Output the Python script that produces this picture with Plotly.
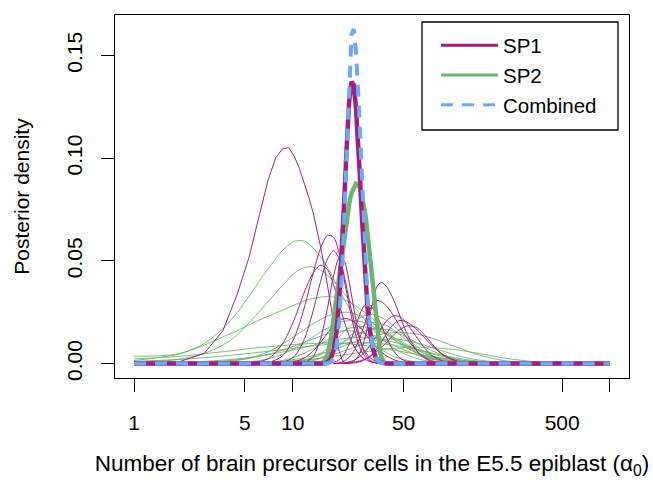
import plotly.graph_objects as go

# ---------------- data ----------------
X_TICKS = [1, 5, 10, 50, 500]
X_TICK_LABELS = ["1", "5", "10", "50", "500"]
X_UNLABELLED_TICKS = [100, 1000]
Y_TICKS = [0.00, 0.05, 0.10, 0.15]
Y_TICK_LABELS = ["0.00", "0.05", "0.10", "0.15"]
SERIES_NAMES = ["SP1", "SP2", "Combined"]
X_TITLE = "Number of brain precursor cells in the E5.5 epiblast (α<sub>0</sub>)"
Y_TITLE = "Posterior density"

# pooled posteriors (thick lines)
SP1_X = [1, 15.77, 16.55, 17.32, 18.10, 18.88, 19.65, 20.42, 21.19, 21.96, 22.72, 23.49,
         24.25, 25.01, 25.77, 26.53, 27.29, 28.04, 28.80, 29.55, 30.30, 31.05, 31.80,
         33.30, 34.79, 36.28, 39.25, 1000]
SP1_Y = [0, 0, 0.0006, 0.0022, 0.0064, 0.0154, 0.0314, 0.0537, 0.0814, 0.1073,
         0.1279, 0.1372, 0.1357, 0.1254, 0.1101, 0.0914, 0.0718, 0.0552, 0.0398,
         0.0284, 0.0191, 0.0126, 0.0082, 0.0031, 0.0011, 0.0004, 0, 0]

SP2_X = [1, 14.98, 15.77, 16.55, 17.32, 18.10, 18.88, 19.65, 20.42, 21.19, 21.96, 22.72,
         23.49, 24.25, 25.01, 25.77, 26.53, 27.29, 28.04, 28.80, 29.55, 30.30, 31.05,
         31.80, 32.55, 33.30, 34.05, 34.79, 35.53, 36.28, 37.76, 39.25, 1000]
SP2_Y = [0, 0, 0.001, 0.004, 0.011, 0.022, 0.034, 0.045, 0.055, 0.064, 0.072,
         0.078, 0.083, 0.086, 0.0875, 0.0870, 0.0855, 0.082, 0.078, 0.072, 0.064,
         0.056, 0.047, 0.037, 0.030, 0.022, 0.015, 0.010, 0.006, 0.003, 0.0005, 0, 0]

COMB_X = [1, 16.55, 17.32, 18.10, 18.88, 19.65, 20.42, 21.19, 21.96, 22.72, 23.49, 24.25,
          25.01, 25.77, 26.53, 27.29, 28.04, 28.80, 29.55, 30.30, 31.05, 31.80, 33.30,
          34.79, 36.28, 39.25, 1000]
COMB_Y = [0, 0.0001, 0.0007, 0.0026, 0.0081, 0.0209, 0.0426, 0.0746, 0.1097,
          0.1417, 0.1601, 0.1629, 0.1528, 0.1353, 0.1126, 0.0882, 0.0672, 0.0478,
          0.0337, 0.0221, 0.0142, 0.0090, 0.0032, 0.0011, 0.0003, 0, 0]

# individual SP1 posteriors (thin magenta)
SP1_THIN_X = [
    [1, 1.89, 2.77, 3.63, 4.48, 5.32, 6.15, 6.98, 7.80, 8.61, 9.42, 10.22, 11.03, 11.82,
     12.62, 13.41, 14.20, 14.98, 15.77, 16.55, 17.32, 18.10, 18.88, 19.65, 20.42, 21.19, 22.72],
    [5.32, 6.98, 8.61, 10.22, 11.82, 13.41, 14.98, 16.55, 18.10, 19.65, 21.19, 22.72, 24.25,
     27.29, 30.30, 34.05, 39.25],
    [6.98, 8.61, 10.22, 11.82, 13.41, 14.98, 16.55, 18.10, 19.65, 21.19, 22.72, 24.25, 25.77,
     27.29, 30.30, 34.05],
    [3.63, 5.32, 6.98, 8.61, 10.22, 11.82, 13.41, 14.98, 16.55, 18.10, 19.65, 21.19, 22.72,
     24.25, 27.29, 30.30, 34.05, 39.25],
    [21.19, 22.72, 24.25, 25.77, 27.29, 28.80, 30.30, 31.80, 34.05, 36.28, 39.25, 42.95,
     46.62, 50.25, 53.88, 61.12, 68.31, 75.44, 89.56],
    [18.10, 19.65, 21.19, 22.72, 24.25, 25.77, 27.29, 28.80, 30.30, 31.80, 34.05, 36.28,
     39.25, 42.95, 46.62, 50.25, 53.88, 61.12, 68.31, 75.44, 89.56, 110.5],
    [18.10, 21.19, 24.25, 27.29, 30.30, 34.05, 36.28, 39.25, 42.95, 46.62, 50.25, 53.88,
     61.12, 68.31, 75.44, 89.56, 110.5, 145.0],
    [18.10, 21.19, 24.25, 27.29, 30.30, 34.05, 39.25, 42.95, 46.62, 50.25, 53.88, 61.12,
     68.31, 75.44, 89.56, 110.5, 145.0],
    [21.19, 24.25, 27.29, 30.30, 34.05, 36.28, 39.25, 42.95, 46.62, 50.25, 53.88, 61.12,
     68.31, 75.44, 89.56, 110.5, 145.0, 212.4],
    [14.98, 16.55, 18.10, 19.65, 21.19, 22.72, 24.25, 25.77, 27.29, 28.80, 30.30, 31.80,
     34.05, 36.28, 39.25, 42.95, 46.62, 53.88, 61.12],
    [10.22, 11.82, 13.41, 14.98, 16.55, 18.10, 19.65, 21.19, 22.72, 24.25, 25.77, 27.29,
     28.80, 31.80, 36.28],
    [6.98, 8.61, 10.22, 11.82, 13.41, 14.98, 16.55, 18.10, 19.65, 21.19, 22.72, 24.25,
     27.29, 30.30, 34.05, 39.25, 46.62, 53.88, 61.12],
]
SP1_THIN_Y = [
    [0, 0.0007, 0.005, 0.016, 0.034, 0.052, 0.072, 0.089, 0.100, 0.1045, 0.1052, 0.101, 0.095,
     0.088, 0.081, 0.074, 0.066, 0.057, 0.048, 0.038, 0.028, 0.019, 0.012, 0.006, 0.002, 0.0005, 0],
    [0, 0.0005, 0.0037, 0.0125, 0.0271, 0.0435, 0.0561, 0.0624, 0.0616, 0.0536, 0.0423, 0.0310,
     0.0214, 0.0089, 0.0033, 0.0009, 0.0001],
    [0, 0.0005, 0.0035, 0.0117, 0.0252, 0.0399, 0.0508, 0.0550, 0.0509, 0.0402, 0.0281, 0.0179,
     0.0105, 0.0057, 0.0015, 0.0002],
    [0, 0.0002, 0.0023, 0.0095, 0.0214, 0.0346, 0.0439, 0.0479, 0.0458, 0.0384, 0.0288, 0.0203,
     0.0135, 0.0086, 0.0031, 0.0011, 0.0003, 0],
    [0, 0.0003, 0.0012, 0.0033, 0.0074, 0.0137, 0.0214, 0.0292, 0.0377, 0.0395, 0.0372, 0.0316,
     0.0247, 0.0181, 0.0129, 0.0059, 0.0025, 0.0010, 0.0002],
    [0, 0.0004, 0.0013, 0.0030, 0.0060, 0.0103, 0.0153, 0.0207, 0.0253, 0.0287, 0.0307, 0.0301,
     0.0278, 0.0237, 0.0190, 0.0147, 0.0111, 0.0058, 0.0029, 0.0014, 0.0003, 0],
    [0, 0.0004, 0.0016, 0.0042, 0.0082, 0.0140, 0.0174, 0.0210, 0.0232, 0.0230, 0.0212, 0.0184,
     0.0123, 0.0073, 0.0040, 0.0011, 0.0001, 0],
    [0, 0.0002, 0.0007, 0.0016, 0.0032, 0.0060, 0.0105, 0.0137, 0.0162, 0.0177, 0.0185, 0.0173,
     0.0137, 0.0097, 0.0039, 0.0008, 0],
    [0, 0.0003, 0.0012, 0.0032, 0.0074, 0.0105, 0.0149, 0.0190, 0.0209, 0.0208, 0.0197, 0.0163,
     0.0124, 0.0088, 0.0041, 0.0012, 0.0001, 0],
    [0, 0.0001, 0.0006, 0.0019, 0.0048, 0.0095, 0.0153, 0.0214, 0.0263, 0.0287, 0.0288, 0.0273,
     0.0233, 0.0185, 0.0123, 0.0066, 0.0032, 0.0006, 0.0001],
    [0, 0.0005, 0.0033, 0.0119, 0.0268, 0.0426, 0.0513, 0.0497, 0.0396, 0.0272, 0.0164, 0.0089,
     0.0044, 0.0009, 0],
    [0, 0.0002, 0.0009, 0.0027, 0.0060, 0.0103, 0.0148, 0.0186, 0.0210, 0.0220, 0.0216, 0.0204,
     0.0165, 0.0121, 0.0077, 0.0036, 0.0011, 0.0003, 0],
]

# individual SP2 posteriors (thin green), all on one grid
SP2_GRID = [1, 1.89, 2.77, 3.63, 4.48, 5.32, 6.98, 8.61, 10.22, 11.82, 13.41, 14.98, 16.55,
            19.65, 22.72, 27.29, 31.80, 39.25, 46.62, 61.12, 75.44, 110.5, 145.0, 212.4,
            343.9, 1000]
SP2_THIN_Y = [
    [0.0036, 0.0047, 0.0098, 0.017, 0.025, 0.033, 0.046, 0.055, 0.0595, 0.0597, 0.0565, 0.052,
     0.047, 0.036, 0.027, 0.017, 0.0107, 0.0051, 0.0026, 0.0007, 0.0002, 0, 0, 0, 0, 0],
    [0.0008, 0.002, 0.005, 0.009, 0.014, 0.020, 0.030, 0.038, 0.044, 0.0468, 0.047, 0.0455,
     0.043, 0.037, 0.031, 0.023, 0.017, 0.010, 0.006, 0.0024, 0.001, 0.0002, 0, 0, 0, 0],
    [0.0015, 0.0045, 0.009, 0.013, 0.016, 0.019, 0.023, 0.026, 0.0285, 0.0305, 0.0317, 0.0324,
     0.0326, 0.032, 0.030, 0.026, 0.022, 0.0155, 0.011, 0.0055, 0.0028, 0.0006, 0.0002, 0, 0, 0],
    [0.0002, 0.0004, 0.0007, 0.0011, 0.0016, 0.0026, 0.0057, 0.0095, 0.0132, 0.0165, 0.0193,
     0.0215, 0.0231, 0.0248, 0.0249, 0.0229, 0.0198, 0.0146, 0.0102, 0.0050, 0.0024, 0.0005,
     0.0001, 0, 0, 0],
    [0, 0, 0, 0.0001, 0.0003, 0.0008, 0.0023, 0.0046, 0.0073, 0.0102, 0.0130, 0.0154, 0.0173,
     0.0200, 0.0209, 0.0203, 0.0182, 0.0139, 0.0100, 0.0049, 0.0024, 0.0004, 0.0001, 0, 0, 0],
    [0, 0, 0, 0, 0, 0.0001, 0.0006, 0.0015, 0.0031, 0.0050, 0.0072, 0.0095, 0.0116, 0.0150,
     0.0172, 0.0180, 0.0172, 0.0144, 0.0114, 0.0065, 0.0036, 0.0009, 0.0003, 0, 0, 0],
    [0, 0, 0, 0, 0, 0, 0, 0.0002, 0.0006, 0.0015, 0.0030, 0.0050, 0.0074, 0.0131, 0.0181,
     0.0229, 0.0240, 0.0210, 0.0162, 0.0081, 0.0037, 0.0006, 0.0001, 0, 0, 0],
    [0, 0, 0, 0, 0, 0, 0.0001, 0.0004, 0.0010, 0.0018, 0.0030, 0.0044, 0.0059, 0.0092, 0.0120,
     0.0152, 0.0168, 0.0166, 0.0147, 0.0100, 0.0063, 0.0019, 0.0006, 0.0001, 0, 0],
    [0, 0, 0, 0, 0, 0, 0.0001, 0.0003, 0.0007, 0.0012, 0.0019, 0.0026, 0.0035, 0.0054, 0.0071,
     0.0093, 0.0108, 0.0120, 0.0118, 0.0100, 0.0078, 0.0038, 0.0019, 0.0005, 0.0001, 0],
    [0.0023, 0.0035, 0.0048, 0.0058, 0.0066, 0.0073, 0.0082, 0.0088, 0.0093, 0.0096, 0.0098,
     0.0099, 0.0100, 0.0099, 0.0096, 0.0090, 0.0083, 0.0071, 0.0061, 0.0045, 0.0034, 0.0018,
     0.0011, 0.0005, 0.0001, 0],
    [0.0011, 0.0020, 0.0029, 0.0037, 0.0044, 0.0050, 0.0060, 0.0068, 0.0075, 0.0081, 0.0086,
     0.0090, 0.0093, 0.0098, 0.0101, 0.0102, 0.0100, 0.0094, 0.0086, 0.0068, 0.0052, 0.0026,
     0.0013, 0.0004, 0.0001, 0],
    [0, 0, 0, 0, 0.0001, 0.0002, 0.0006, 0.0012, 0.0020, 0.0029, 0.0038, 0.0048, 0.0058, 0.0078,
     0.0096, 0.0118, 0.0134, 0.0148, 0.0152, 0.0143, 0.0124, 0.0078, 0.0045, 0.0015, 0.0003, 0],
    [0, 0, 0, 0, 0, 0, 0, 0, 0.0002, 0.0006, 0.0014, 0.0027, 0.0044, 0.0087, 0.0130, 0.0180,
     0.0200, 0.0185, 0.0145, 0.0070, 0.0030, 0.0003, 0, 0, 0, 0],
    [0.0003, 0.0006, 0.0011, 0.0017, 0.0023, 0.0030, 0.0043, 0.0056, 0.0068, 0.0079, 0.0089,
     0.0098, 0.0106, 0.0118, 0.0125, 0.0128, 0.0124, 0.0112, 0.0098, 0.0070, 0.0048, 0.0019,
     0.0008, 0.0002, 0, 0],
    [0.0001, 0.0003, 0.0007, 0.0012, 0.0019, 0.0027, 0.0045, 0.0065, 0.0085, 0.0104, 0.0120,
     0.0134, 0.0145, 0.0158, 0.0160, 0.0150, 0.0133, 0.0104, 0.0078, 0.0041, 0.0021, 0.0004,
     0.0001, 0, 0, 0],
    [0, 0, 0, 0.0001, 0.0002, 0.0003, 0.0006, 0.0010, 0.0014, 0.0018, 0.0022, 0.0027, 0.0031,
     0.0039, 0.0046, 0.0055, 0.0062, 0.0071, 0.0076, 0.0080, 0.0078, 0.0066, 0.0051, 0.0028,
     0.0009, 0.0001],
]

# ---------------- styles ----------------
MAGENTA = "#A2207C"
GREEN = "#6DB46D"
GREEN_THIN = "rgba(100,176,100,0.85)"
BLUE = "#6EA8FA"
FONT = "Liberation Sans, Arial, Helvetica, sans-serif"

W, H = 653, 480
ML, MR, MT, MB = 115, 24, 15, 102
PW, PH = W - ML - MR, H - MT - MB


def px_x(px):
    return (px - ML) / PW


def px_y(py):
    return (H - MB - py) / PH


fig = go.Figure()

for ys in SP2_THIN_Y:
    fig.add_trace(go.Scatter(x=SP2_GRID, y=ys, mode="lines",
                             line=dict(color=GREEN_THIN, width=1, shape="spline", smoothing=0.8),
                             showlegend=False, hoverinfo="skip"))

for i, (xs, ys) in enumerate(zip(SP1_THIN_X, SP1_THIN_Y)):
    fig.add_trace(go.Scatter(x=xs, y=ys, mode="lines",
                             line=dict(color=MAGENTA, width=1,
                                       shape="linear" if i == 0 else "spline", smoothing=0.8),
                             showlegend=False, hoverinfo="skip"))

fig.add_trace(go.Scatter(x=SP2_X, y=SP2_Y, mode="lines",
                         line=dict(color=GREEN, width=4.5), showlegend=False))
fig.add_trace(go.Scatter(x=SP1_X, y=SP1_Y, mode="lines",
                         line=dict(color=MAGENTA, width=4.5), showlegend=False))
fig.add_trace(go.Scatter(x=COMB_X, y=COMB_Y, mode="lines",
                         line=dict(color=BLUE, width=4, dash="12px,9px"), showlegend=False))

# legend entries
for name, col, dash in zip(SERIES_NAMES, [MAGENTA, GREEN, BLUE], ["solid", "solid", "12px,9px"]):
    fig.add_trace(go.Scatter(x=[None], y=[None], mode="lines", name=name,
                             line=dict(color=col, width=3, dash=dash)))

# legend frame
fig.add_shape(type="rect", xref="paper", yref="paper",
              x0=px_x(422), x1=px_x(618), y0=px_y(130), y1=px_y(22),
              line=dict(color="black", width=1.3), fillcolor="white", layer="above")

fig.update_layout(
    width=W, height=H,
    margin=dict(l=ML, r=MR, t=MT, b=MB),
    paper_bgcolor="white", plot_bgcolor="white",
    font=dict(family=FONT, size=21, color="black"),
    showlegend=True,
    legend=dict(x=px_x(436), xanchor="left", y=px_y(25.5), yanchor="top",
                bgcolor="rgba(0,0,0,0)", borderwidth=0,
                font=dict(size=20.5), itemwidth=57, tracegroupgap=0),
)
fig.update_xaxes(type="log", range=[-0.12, 3.12], tickmode="array",
                 tickvals=X_TICKS, ticktext=X_TICK_LABELS,
                 ticks="outside", ticklen=13, tickwidth=1, tickcolor="black",
                 minor=dict(tickmode="array", tickvals=X_UNLABELLED_TICKS, ticks="outside",
                            ticklen=13, tickwidth=1, tickcolor="black", showgrid=False),
                 showline=True, linecolor="black", linewidth=1, mirror=True,
                 showgrid=False, zeroline=False, ticklabelstandoff=13,
                 title=dict(text=X_TITLE, font=dict(size=22.5), standoff=22),
                 automargin=False)
fig.update_yaxes(range=[-0.0070, 0.1697], tickmode="array",
                 tickvals=Y_TICKS, ticktext=Y_TICK_LABELS, tickangle=-90,
                 ticks="outside", ticklen=13, tickwidth=1, tickcolor="black",
                 showline=True, linecolor="black", linewidth=1, mirror=True,
                 showgrid=False, zeroline=False, ticklabelstandoff=11,
                 title=dict(text=Y_TITLE, font=dict(size=21), standoff=27),
                 automargin=False)

fig.write_html("out.html")
